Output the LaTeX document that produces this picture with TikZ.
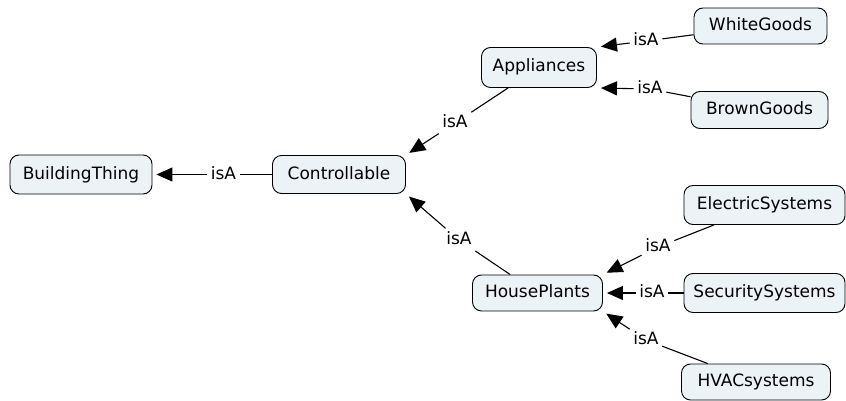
\documentclass[tikz,border=0pt]{standalone}
\usepackage{fontspec}
\setmainfont{DejaVu Sans}
\usetikzlibrary{arrows.meta}
\definecolor{cfill}{RGB}{236,243,247}
\begin{document}
\begin{tikzpicture}[x=1pt,y=-1pt,
  concept/.style={draw=black, line width=0.9pt, rounded corners=9pt, fill=cfill,
    inner sep=0pt, text height=12.5pt, text depth=3.5pt,
    font=\fontsize{17}{20}\selectfont},
  rel/.style={inner sep=3.5pt, text height=12.5pt, text depth=3.5pt,
    font=\fontsize{17}{20}\selectfont},
  link/.style={line width=1.1pt},
  isa/.style={link, -{Triangle[length=16pt,width=14pt]}, shorten >=4pt}]
\useasboundingbox (0,0) rectangle (846,401);

% concepts
\node[concept, minimum width=142pt, minimum height=39pt] (bt)    at (81,174.5)  {BuildingThing};
\node[concept, minimum width=133pt, minimum height=38pt] (ctrl)  at (339,174.5) {Controllable};
\node[concept, minimum width=115pt, minimum height=40pt] (appl)  at (539,67.5)  {Appliances};
\node[concept, minimum width=133pt, minimum height=36pt] (white) at (760.5,26)  {WhiteGoods};
\node[concept, minimum width=137pt, minimum height=37pt] (brown) at (759.5,110) {BrownGoods};
\node[concept, minimum width=161pt, minimum height=39pt] (elec)  at (764.5,205) {ElectricSystems};
\node[concept, minimum width=130pt, minimum height=36pt] (hp)    at (537.5,293) {HousePlants};
\node[concept, minimum width=161pt, minimum height=39pt] (sec)   at (764.5,293) {SecuritySystems};
\node[concept, minimum width=149pt, minimum height=36pt] (hvac)  at (756,382)   {HVACsystems};

% relation labels
\node[rel] (l1) at (223.5,174.5) {isA};
\node[rel] (l2) at (455,123)    {isA};
\node[rel] (l3) at (459,240)    {isA};
\node[rel] (l4) at (646,41)     {isA};
\node[rel] (l5) at (650,89)     {isA};
\node[rel] (l6) at (658,247)    {isA};
\node[rel] (l7) at (652,293)    {isA};
\node[rel] (l8) at (646,340)    {isA};

% links
\draw[link] (ctrl) -- (l1);  \draw[isa] (l1) -- (bt);
\draw[link] (appl) -- (l2);  \draw[isa] (l2) -- (ctrl.north east);
\draw[link] (hp) -- (l3);    \draw[isa] (l3) -- (ctrl.south east);
\draw[link] (white) -- (l4); \draw[isa] (l4) -- (appl.north east);
\draw[link] (brown) -- (l5); \draw[isa] (l5) -- (appl.south east);
\draw[link] (elec) -- (l6);  \draw[isa] (l6) -- (hp.north east);
\draw[link] (sec) -- (l7);   \draw[isa] (l7) -- (hp);
\draw[link] (hvac) -- (l8);  \draw[isa] (l8) -- (hp.south east);
\end{tikzpicture}
\end{document}
